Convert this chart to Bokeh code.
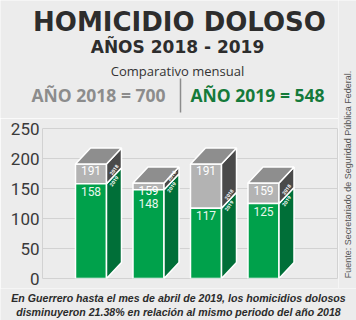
import math
from bokeh.plotting import figure
from bokeh.layouts import column, row
from bokeh.models import Range1d, FixedTicker, ColumnDataSource
from bokeh.core.properties import value
from bokeh.embed import file_html
from bokeh.resources import INLINE

# ---- data ----
meses = ["Enero", "Febrero", "Marzo", "Abril"]
v2018 = [191, 159, 191, 159]
v2019 = [158, 148, 117, 125]
total_2018 = 700
total_2019 = 548
y_ticks = [0, 50, 100, 150, 200, 250]

BG = "#ececec"
W, H = 356, 320
HEAD_H, CHART_H, SRC_W = 118, 170, 18
FOOT_H = H - HEAD_H - CHART_H


def text_fig(w, h):
    f = figure(width=w, height=h, output_backend="svg", toolbar_location=None,
               x_range=Range1d(0, w), y_range=Range1d(0, h),
               x_axis_location=None, y_axis_location=None,
               min_border=0, background_fill_color=BG, border_fill_color=BG)
    f.grid.visible = False
    f.outline_line_color = None
    f.frame_align = False
    return f


def txt(f, s, x, y, size, color, font="Open Sans", style="bold", angle=0):
    f.text(x=[x], y=[y], text=[s], text_font=value(font), text_font_size=size,
           text_font_style=style, text_color=color, text_align="center",
           text_baseline="middle", angle=angle)


# ---- header ----
head = text_fig(W - SRC_W, HEAD_H)
hy = lambda py: HEAD_H - py
txt(head, "HOMICIDIO DOLOSO", 179, hy(21), "26px", "#2d2d2d", font="DejaVu Sans")
txt(head, "AÑOS 2018 - 2019", 177, hy(46), "17px", "#2d2d2d", font="DejaVu Sans")
txt(head, "Comparativo mensual", 177, hy(70), "13px", "#333333", style="normal")
txt(head, f"AÑO 2018 = {total_2018}", 98, hy(94), "17.5px", "#8c8c8c")
txt(head, f"AÑO 2019 = {total_2019}", 257, hy(94), "17.5px", "#157a3a")
head.segment(x0=[180], y0=[hy(78)], x1=[180], y1=[hy(112)], line_color="#8c8c8c", line_width=1.5)

# ---- chart ----
PX_X0, PX_PER_X = 90.5, 57.5
def X(px):
    return 1 + (px - PX_X0) / PX_PER_X

chart = figure(width=W - SRC_W, height=CHART_H, output_backend="svg", toolbar_location=None,
               x_range=Range1d(X(42), X(338)), y_range=Range1d(0, 250),
               x_axis_location=None, min_border_left=42, min_border_right=0,
               min_border_top=10, min_border_bottom=10,
               background_fill_color=BG, border_fill_color=BG)
chart.frame_align = False
chart.outline_line_color = "#d2d2d2"
chart.xgrid.visible = False
chart.ygrid.ticker = FixedTicker(ticks=y_ticks)
chart.ygrid.grid_line_color = "#d2d2d2"
chart.yaxis.ticker = FixedTicker(ticks=y_ticks)
chart.yaxis.axis_line_color = None
chart.yaxis.major_tick_line_color = None
chart.yaxis.minor_tick_line_color = None
chart.yaxis.major_tick_out = 0
chart.yaxis.major_label_standoff = 3
chart.yaxis.major_label_text_font = "Roboto"
chart.yaxis.major_label_text_font_size = "17px"
chart.yaxis.major_label_text_color = "#3a3a3a"

PX_PER_Y = 0.6
hw = 15.5 / PX_PER_X      # half front width
dx = 15.0 / PX_PER_X      # depth in x
dy = 16.0 / PX_PER_Y      # depth in y
xs = [i + 1 for i in range(len(meses))]

G_FRONT, G_SIDE = "#00a14b", "#006f38"
R_FRONT, R_SIDE, TOP = "#b3b3b3", "#4a4a4a", "#8e8e8e"

gray_front = dict(left=[x - hw for x in xs], right=[x + hw for x in xs], bottom=v2019, top=v2018)
green_front = dict(left=[x - hw for x in xs], right=[x + hw for x in xs], bottom=[0] * len(xs), top=v2019)
chart.quad(source=ColumnDataSource(gray_front), left="left", right="right", bottom="bottom", top="top",
           fill_color=R_FRONT, line_color="white", line_width=1.5)
chart.quad(source=ColumnDataSource(green_front), left="left", right="right", bottom="bottom", top="top",
           fill_color=G_FRONT, line_color="white", line_width=1.5)

gs_x, gs_y, rs_x, rs_y, tp_x, tp_y = [], [], [], [], [], []
for x, g, r in zip(xs, v2019, v2018):
    R, L = x + hw, x - hw
    gs_x.append([R, R + dx, R + dx, R]); gs_y.append([0, dy, g + dy, g])
    rs_x.append([R, R + dx, R + dx, R]); rs_y.append([g, g + dy, r + dy, r])
    tp_x.append([L, R, R + dx, L + dx]); tp_y.append([r, r, r + dy, r + dy])
chart.patches(gs_x, gs_y, fill_color=G_SIDE, line_color="white", line_width=1.5)
chart.patches(rs_x, rs_y, fill_color=R_SIDE, line_color="white", line_width=1.5)
chart.patches(tp_x, tp_y, fill_color=TOP, line_color="white", line_width=1.5)

# value labels (2019 label pushed below the 2018 label when the gray part is short)
lab18_y = [r - 4 for r in v2018]
lab19_y = [min(g - 5, r - 26) for g, r in zip(v2019, v2018)]
chart.text(x=xs, y=lab18_y, text=[str(v) for v in v2018],
           text_font=value("Roboto"), text_font_size="12px", text_color="white",
           text_align="center", text_baseline="top")
chart.text(x=xs, y=lab19_y, text=[str(v) for v in v2019],
           text_font=value("Roboto"), text_font_size="12px", text_color="#e8f7ee",
           text_align="center", text_baseline="top")

# side year labels
sx = [x + hw + dx / 2 for x in xs]
chart.text(x=sx, y=[g + dy / 2 + 10 for g in v2019], text=["2018"] * len(xs),
           text_font=value("Roboto"), text_font_size="5px", text_font_style="bold",
           text_color="white", text_align="center", text_baseline="middle", angle=0.95)
chart.text(x=sx, y=[g + dy / 2 - 9 for g in v2019], text=["2019"] * len(xs),
           text_font=value("Roboto"), text_font_size="5px", text_font_style="bold",
           text_color="white", text_align="center", text_baseline="middle", angle=0.95)

# ---- source (vertical, right) ----
src = text_fig(SRC_W, HEAD_H + CHART_H)
src.x_range = Range1d(W - SRC_W, W)
txt(src, "Fuente: Secretariado de Seguridad Pública Federal.", 347, HEAD_H + CHART_H - 174,
    "9px", "#555555", font="Liberation Sans", style="normal", angle=math.pi / 2)

# ---- footer ----
foot = text_fig(W, FOOT_H)
fy = lambda py: H - py
txt(foot, "En Guerrero hasta el mes de abril de 2019, los homicidios dolosos", 178, fy(297),
    "10.6px", "#2b2b2b", font="Liberation Sans", style="bold italic")
txt(foot, "disminuyeron 21.38% en relación al mismo periodo del año 2018", 178, fy(311),
    "10.6px", "#2b2b2b", font="Liberation Sans", style="bold italic")

layout = column(row(column(head, chart, spacing=0), src, spacing=0), foot, spacing=0)
open("out.html", "w").write(file_html(layout, INLINE))
